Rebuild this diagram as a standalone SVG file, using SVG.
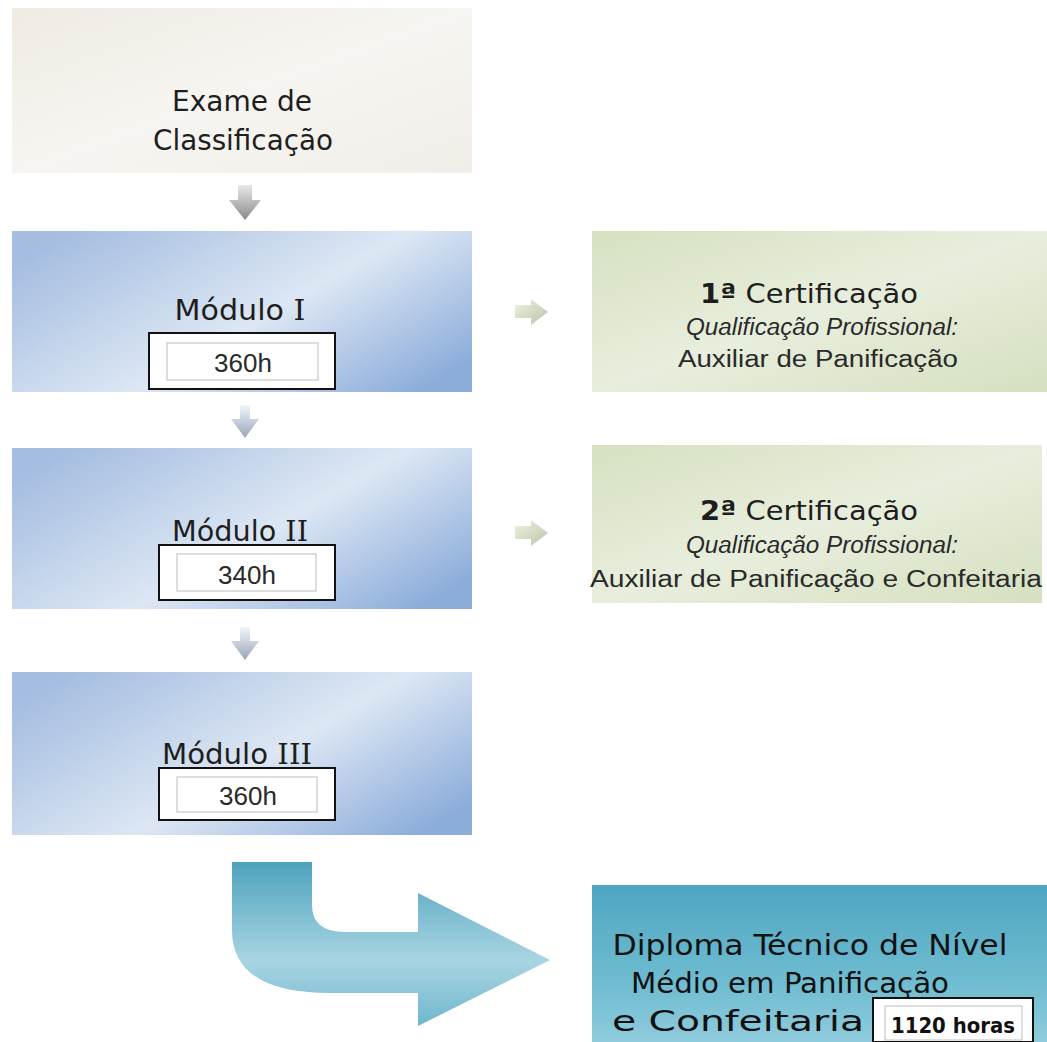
<svg xmlns="http://www.w3.org/2000/svg" width="1047" height="1042" viewBox="0 0 1047 1042">
<defs>
  <linearGradient id="beige" x1="0" y1="0" x2="1" y2="1">
    <stop offset="0" stop-color="#efebe3"/>
    <stop offset="0.5" stop-color="#f7f5f1"/>
    <stop offset="1" stop-color="#f1eee8"/>
  </linearGradient>
  <linearGradient id="blue" x1="0" y1="0.2" x2="1" y2="0.8">
    <stop offset="0" stop-color="#a4bde0"/>
    <stop offset="0.55" stop-color="#dde7f4"/>
    <stop offset="1" stop-color="#8cadda"/>
  </linearGradient>
  <linearGradient id="green" x1="0" y1="0" x2="1" y2="1">
    <stop offset="0" stop-color="#d6e1c0"/>
    <stop offset="0.5" stop-color="#e8eedd"/>
    <stop offset="1" stop-color="#d5e0bf"/>
  </linearGradient>
  <linearGradient id="teal" x1="0" y1="0" x2="0" y2="1">
    <stop offset="0" stop-color="#4fa6c0"/>
    <stop offset="0.6" stop-color="#6dbbd0"/>
    <stop offset="1" stop-color="#8fcbdc"/>
  </linearGradient>
  <linearGradient id="bigarrow" x1="0" y1="0" x2="0" y2="1">
    <stop offset="0" stop-color="#4ea2bd"/>
    <stop offset="0.6" stop-color="#a9d5e3"/>
    <stop offset="1" stop-color="#6fb6cc"/>
  </linearGradient>
  <linearGradient id="grayarrow" x1="0" y1="0" x2="0" y2="1">
    <stop offset="0" stop-color="#e8e8e8"/>
    <stop offset="1" stop-color="#8a8a8a"/>
  </linearGradient>
  <linearGradient id="bluearrow" x1="0" y1="0" x2="0" y2="1">
    <stop offset="0" stop-color="#f2f5fa"/>
    <stop offset="1" stop-color="#98a6b8"/>
  </linearGradient>
  <linearGradient id="greenarrow" x1="0" y1="0" x2="1" y2="1">
    <stop offset="0" stop-color="#eef3e2"/>
    <stop offset="1" stop-color="#b9c4a6"/>
  </linearGradient>
</defs>
<style>
  .t { font-family: "DejaVu Sans", Verdana, sans-serif; fill: #1e1e1e; text-anchor: middle; }
  .a { font-family: "Liberation Sans", Arial, sans-serif; fill: #2a2a2a; text-anchor: middle; }
  .n { font-family: "DejaVu Sans Condensed", "DejaVu Sans", sans-serif; fill: #111; text-anchor: middle; }
  .outer { fill: #ffffff; stroke: #111; stroke-width: 2; }
  .inner { fill: #ffffff; stroke: #bdbdbd; stroke-width: 1; }
</style>
<rect width="1047" height="1042" fill="#ffffff"/>

<g id="exame">
  <rect x="12" y="8" width="460" height="165" fill="url(#beige)"/>
  <text class="t" x="242" y="111" font-size="28" textLength="140" lengthAdjust="spacingAndGlyphs">Exame de</text>
  <text class="t" x="243" y="150" font-size="28" textLength="180" lengthAdjust="spacingAndGlyphs">Classificação</text>
</g>

<g id="modulo1">
  <rect x="12" y="231" width="460" height="161" fill="url(#blue)"/>
  <text class="t" x="240" y="320" font-size="28" textLength="131" lengthAdjust="spacingAndGlyphs">Módulo <tspan font-family="DejaVu Serif, serif">I</tspan></text>
  <rect class="outer" x="149" y="333" width="186" height="56"/>
  <rect class="inner" x="167" y="343" width="151" height="37"/>
  <text class="a" x="243" y="372" font-size="26">360h</text>
</g>

<g id="modulo2">
  <rect x="12" y="448" width="460" height="161" fill="url(#blue)"/>
  <text class="t" x="240" y="541" font-size="28" textLength="136" lengthAdjust="spacingAndGlyphs">Módulo <tspan font-family="DejaVu Serif, serif">II</tspan></text>
  <rect class="outer" x="159" y="545" width="176" height="55"/>
  <rect class="inner" x="177" y="554" width="139" height="37"/>
  <text class="a" x="247" y="584" font-size="26">340h</text>
</g>

<g id="modulo3">
  <rect x="12" y="672" width="460" height="163" fill="url(#blue)"/>
  <text class="t" x="237" y="764" font-size="28" textLength="150" lengthAdjust="spacingAndGlyphs">Módulo <tspan font-family="DejaVu Serif, serif">III</tspan></text>
  <rect class="outer" x="159" y="768" width="176" height="52"/>
  <rect class="inner" x="177" y="777" width="140" height="35"/>
  <text class="a" x="248" y="805" font-size="26">360h</text>
</g>

<g id="cert1">
  <rect x="592" y="231" width="455" height="161" fill="url(#green)"/>
  <text class="t" x="809" y="303" font-size="27" textLength="218" lengthAdjust="spacingAndGlyphs"><tspan font-weight="bold">1ª</tspan> Certificação</text>
  <text class="a" x="822" y="335" font-size="23" font-style="italic" textLength="272" lengthAdjust="spacingAndGlyphs">Qualificação Profissional:</text>
  <text class="a" x="818" y="367" font-size="23" textLength="280" lengthAdjust="spacingAndGlyphs">Auxiliar de Panificação</text>
</g>

<g id="cert2">
  <rect x="592" y="445" width="450" height="158" fill="url(#green)"/>
  <text class="t" x="809" y="520" font-size="27" textLength="218" lengthAdjust="spacingAndGlyphs"><tspan font-weight="bold">2ª</tspan> Certificação</text>
  <text class="a" x="822" y="553" font-size="23" font-style="italic" textLength="272" lengthAdjust="spacingAndGlyphs">Qualificação Profissional:</text>
  <text class="a" x="816" y="587" font-size="23" textLength="452" lengthAdjust="spacingAndGlyphs">Auxiliar de Panificação e Confeitaria</text>
</g>

<g id="diploma">
  <rect x="592" y="885" width="455" height="157" fill="url(#teal)"/>
  <text class="n" x="810" y="955" font-size="29" textLength="395" lengthAdjust="spacingAndGlyphs">Diploma Técnico de Nível</text>
  <text class="n" x="790" y="993" font-size="29" textLength="318" lengthAdjust="spacingAndGlyphs">Médio em Panificação</text>
  <text class="n" x="738" y="1031" font-size="29" textLength="252" lengthAdjust="spacingAndGlyphs">e Confeitaria</text>
  <rect class="outer" x="873" y="998" width="160" height="44" stroke-width="1.5"/>
  <rect class="inner" x="885" y="1006" width="137" height="34"/>
  <text class="n" x="953" y="1033" font-size="22" font-weight="bold" textLength="124" lengthAdjust="spacingAndGlyphs">1120 horas</text>
</g>

<g id="connectors">
  <path d="M238,185 L252,185 L252,200 L261,200 L245,220 L229,200 L238,200 Z" fill="url(#grayarrow)"/>
  <path d="M240,405 L250,405 L250,419 L259,419 L245,438 L231,419 L240,419 Z" fill="url(#bluearrow)"/>
  <path d="M240,627 L250,627 L250,641 L259,641 L245,660 L231,641 L240,641 Z" fill="url(#bluearrow)"/>
  <path d="M515,305 L531,305 L531,299 L548,312 L531,325 L531,318 L515,318 Z" fill="url(#greenarrow)"/>
  <path d="M515,526 L531,526 L531,520 L548,533 L531,546 L531,539 L515,539 Z" fill="url(#greenarrow)"/>
  <path d="M232,862 L312,862 L312,905 Q312,932 345,932 L418,932 L418,893 L550,960 L418,1026 L418,993 L330,993 Q232,993 232,930 Z" fill="url(#bigarrow)"/>
</g>
</svg>
